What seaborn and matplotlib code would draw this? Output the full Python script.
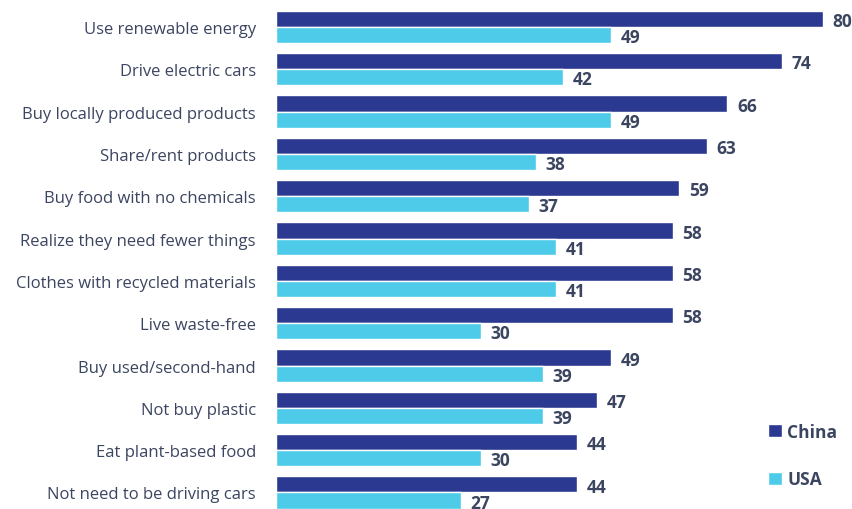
import pandas as pd
import matplotlib.pyplot as plt
import seaborn as sns
from matplotlib.patches import Patch

# Data
actions = ['Use renewable energy', 'Drive electric cars', 'Buy locally produced products',
           'Share/rent products', 'Buy food with no chemicals', 'Realize they need fewer things',
           'Clothes with recycled materials', 'Live waste-free', 'Buy used/second-hand',
           'Not buy plastic', 'Eat plant-based food', 'Not need to be driving cars']
china = [80, 74, 66, 63, 59, 58, 58, 58, 49, 47, 44, 44]
usa = [49, 42, 49, 38, 37, 41, 41, 30, 39, 39, 30, 27]
countries = ['China', 'USA']
colors = ['#2B3990', '#4DCBE8']
text_color = '#3B4560'

df = pd.DataFrame({
    'action': actions * 2,
    'value': china + usa,
    'country': ['China'] * len(actions) + ['USA'] * len(actions),
})

sns.set_style('white')
plt.rcParams['font.family'] = ['Open Sans', 'DejaVu Sans']

fig = plt.figure(figsize=(8.53, 5.10), dpi=100)
ax = fig.add_axes([276 / 853, 0, 1 - 276 / 853, 1])

sns.barplot(data=df, y='action', x='value', hue='country', hue_order=countries,
            palette=colors, orient='h', width=0.76, dodge=True, legend=False,
            saturation=1, ax=ax)

# value labels at the end of each bar (nudged slightly down like the original)
for cont in ax.containers:
    labels = ax.bar_label(cont, fmt='%d', padding=7, fontsize=12.5, fontweight='bold',
                          color=text_color)
    for lab in labels:
        lab.xyann = (lab.xyann[0], -1.5)

ax.set_xlim(0, 84.4)
ax.set_ylim(11.39, -0.66)
ax.set_xlabel('')
ax.set_ylabel('')
ax.set_xticks([])
ax.tick_params(axis='y', length=0, pad=14.5, labelsize=12, labelcolor=text_color)
sns.despine(ax=ax, left=True, bottom=True)

handles = [Patch(facecolor=c, label=n) for c, n in zip(colors, countries)]
leg = fig.legend(handles=handles, loc='lower right', bbox_to_anchor=(1.0, 0.01),
                 frameon=False, handlelength=0.8, handleheight=0.8, handletextpad=0.3,
                 labelspacing=1.7, prop={'weight': 'bold', 'size': 12.5})
for t in leg.get_texts():
    t.set_color(text_color)

plt.savefig('out.png', dpi=100)
